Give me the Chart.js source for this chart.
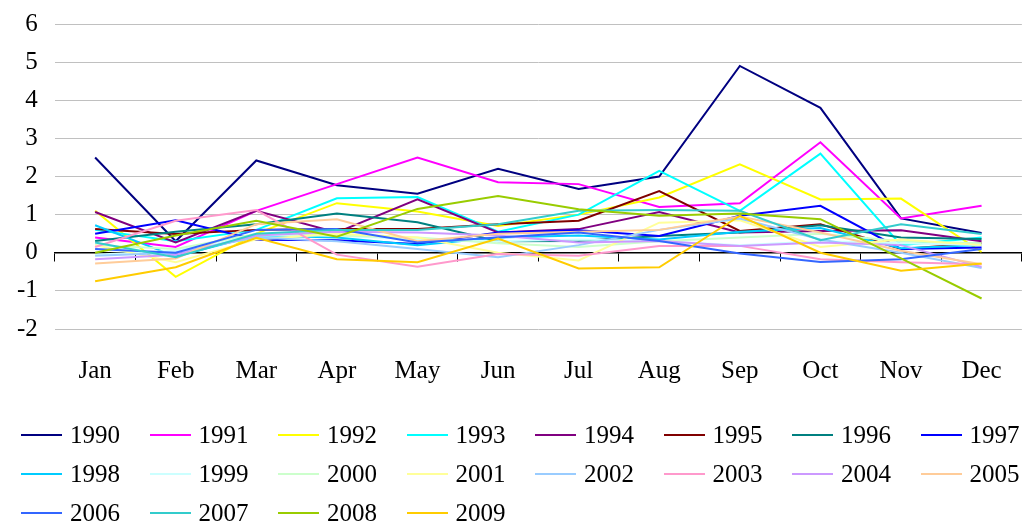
<!DOCTYPE html>
<html>
<head>
<meta charset="utf-8">
<script src="https://cdn.jsdelivr.net/npm/chart.js"></script>
<style>
  html, body { margin: 0; padding: 0; background: #fff; }
  #wrap { position: relative; width: 1029px; height: 525px; overflow: hidden; }
  #chart { position: absolute; left: 0; top: -8px; }
  #legend {
    position: absolute; left: 21px; top: 415px;
    display: grid; grid-template-columns: repeat(8, 128.5px); grid-auto-rows: 39px;
    font-family: "Liberation Serif", "Times New Roman", serif; font-size: 25px; color: #000;
  }
  .item { display: flex; align-items: center; white-space: nowrap; }
  .swatch { display: inline-block; width: 41px; height: 2px; margin-right: 8px; }
</style>
</head>
<body>
<div id="wrap">
  <canvas id="chart" width="1029" height="525"></canvas>
  <div id="legend"></div>
</div>
<script>
// meses y años
var months = ['Jan', 'Feb', 'Mar', 'Apr', 'May', 'Jun', 'Jul', 'Aug', 'Sep', 'Oct', 'Nov', 'Dec'];
var years = ['1990', '1991', '1992', '1993', '1994', '1995', '1996', '1997', '1998', '1999',
             '2000', '2001', '2002', '2003', '2004', '2005', '2006', '2007', '2008', '2009'];

// valores, uno por año
var y1990 = [2.5, 0.3, 2.42, 1.77, 1.55, 2.2, 1.67, 2.0, 4.9, 3.8, 0.9, 0.52];
var y1991 = [0.4, 0.15, 1.1, 1.8, 2.5, 1.85, 1.8, 1.2, 1.3, 2.9, 0.9, 1.23];
var y1992 = [1.1, -0.63, 0.5, 1.3, 1.08, 0.7, 1.0, 1.45, 2.32, 1.4, 1.42, 0.02];
var y1993 = [0.6, 0.3, 0.6, 1.43, 1.46, 0.55, 1.0, 2.15, 1.1, 2.6, 0.2, 0.4];
var y1994 = [1.07, 0.27, 1.1, 0.53, 1.4, 0.53, 0.62, 1.07, 0.53, 0.57, 0.59, 0.3];
var y1995 = [0.62, 0.49, 0.6, 0.62, 0.62, 0.75, 0.84, 1.62, 0.57, 0.75, 0.1, 0.25];
var y1996 = [0.31, 0.55, 0.75, 1.03, 0.8, 0.3, 0.31, 0.44, 0.53, 0.72, 0.4, 0.36];
var y1997 = [0.5, 0.85, 0.34, 0.33, 0.23, 0.53, 0.59, 0.44, 0.97, 1.23, 0.1, 0.14];
var y1998 = [0.72, -0.1, 0.45, 0.4, 0.2, 0.4, 0.45, 0.35, 0.55, 0.65, 0.12, 0.2];
var y1999 = [-0.05, 0.05, 0.45, 0.45, 0.35, 0.3, 0.35, 0.3, 0.2, 0.3, 0.25, 0.2];
var y2000 = [0.2, 0.1, 0.5, 0.45, 0.4, 0.25, 0.15, 0.3, 0.4, 0.5, 0.3, 0.25];
var y2001 = [0.2, -0.25, 0.35, 0.5, 0.4, 0.0, -0.2, 0.79, 0.85, 0.15, 0.35, 0.2];
var y2002 = [-0.08, 0.0, 0.4, 0.3, 0.1, -0.12, 0.2, 0.6, 0.9, 0.35, 0.0, -0.4];
var y2003 = [0.15, 0.84, 1.12, -0.05, -0.37, -0.03, -0.08, 0.18, 0.18, -0.17, -0.25, -0.3];
var y2004 = [-0.17, -0.05, 0.45, 0.55, 0.53, 0.45, 0.27, 0.31, 0.18, 0.27, 0.2, -0.37];
var y2005 = [-0.28, -0.15, 0.75, 0.88, 0.3, 0.5, 0.55, 0.6, 0.95, 0.53, 0.05, -0.3];
var y2006 = [0.1, 0.0, 0.6, 0.62, 0.27, 0.4, 0.53, 0.31, -0.02, -0.24, -0.17, 0.1];
var y2007 = [0.27, -0.12, 0.5, 0.6, 0.6, 0.75, 1.1, 1.12, 1.1, 0.33, 0.75, 0.49];
var y2008 = [0.0, 0.45, 0.84, 0.42, 1.15, 1.49, 1.14, 0.97, 1.03, 0.88, -0.15, -1.2];
var y2009 = [-0.75, -0.38, 0.39, -0.17, -0.25, 0.37, -0.41, -0.38, 0.97, 0.0, -0.47, -0.28];

var series = [y1990, y1991, y1992, y1993, y1994, y1995, y1996, y1997, y1998, y1999,
              y2000, y2001, y2002, y2003, y2004, y2005, y2006, y2007, y2008, y2009];

// paleta de Excel
var colors = ['#000080', '#FF00FF', '#FFFF00', '#00FFFF', '#800080', '#800000', '#008080', '#0000FF',
              '#00CCFF', '#CCFFFF', '#CCFFCC', '#FFFF99', '#99CCFF', '#FF99CC', '#CC99FF', '#FFCC99',
              '#3366FF', '#33CCCC', '#99CC00', '#FFCC00'];

var datasets = years.map(function(year, i) {
    return {
        label: year,
        data: series[i],
        borderColor: colors[i],
        backgroundColor: colors[i],
        borderWidth: 2,
        pointRadius: 0,
        tension: 0,
        fill: false,
        order: -i   // los años más recientes encima, como en Excel
    };
});

var serif = { family: '"Liberation Serif", "Times New Roman", serif', size: 25 };

var ctx = document.getElementById('chart').getContext('2d');
var chart = new Chart(ctx, {
    type: 'line',
    data: { labels: months, datasets: datasets },
    options: {
        responsive: false,
        animation: false,
        layout: { padding: { top: 11, left: 0, right: 7, bottom: 104 } },
        plugins: { legend: { display: false }, tooltip: { enabled: false } },
        scales: {
            x: {
                offset: true,
                grid: { display: false, drawTicks: false },
                border: { display: false },
                ticks: { color: '#000', font: serif, padding: 27, maxRotation: 0 }
            },
            x2: {
                type: 'category',
                labels: months,
                offset: true,
                position: { y: 0 },
                grid: { display: true, offset: true, drawOnChartArea: false, tickLength: 8, color: '#000', lineWidth: 1 },
                border: { display: true, color: '#000', width: 1.5 },
                ticks: { display: false }
            },
            y: {
                min: -2,
                max: 6,
                ticks: { stepSize: 1, color: '#000', font: serif, padding: 17 },
                grid: { color: '#c0c0c0', lineWidth: 1, drawTicks: false },
                border: { display: false }
            }
        }
    }
});

// leyenda en HTML, en filas de 8
var legend = document.getElementById('legend');
years.forEach(function(year, i) {
    var item = document.createElement('div');
    item.className = 'item';
    var sw = document.createElement('span');
    sw.className = 'swatch';
    sw.style.background = colors[i];
    item.appendChild(sw);
    item.appendChild(document.createTextNode(year));
    legend.appendChild(item);
});
</script>
</body>
</html>
